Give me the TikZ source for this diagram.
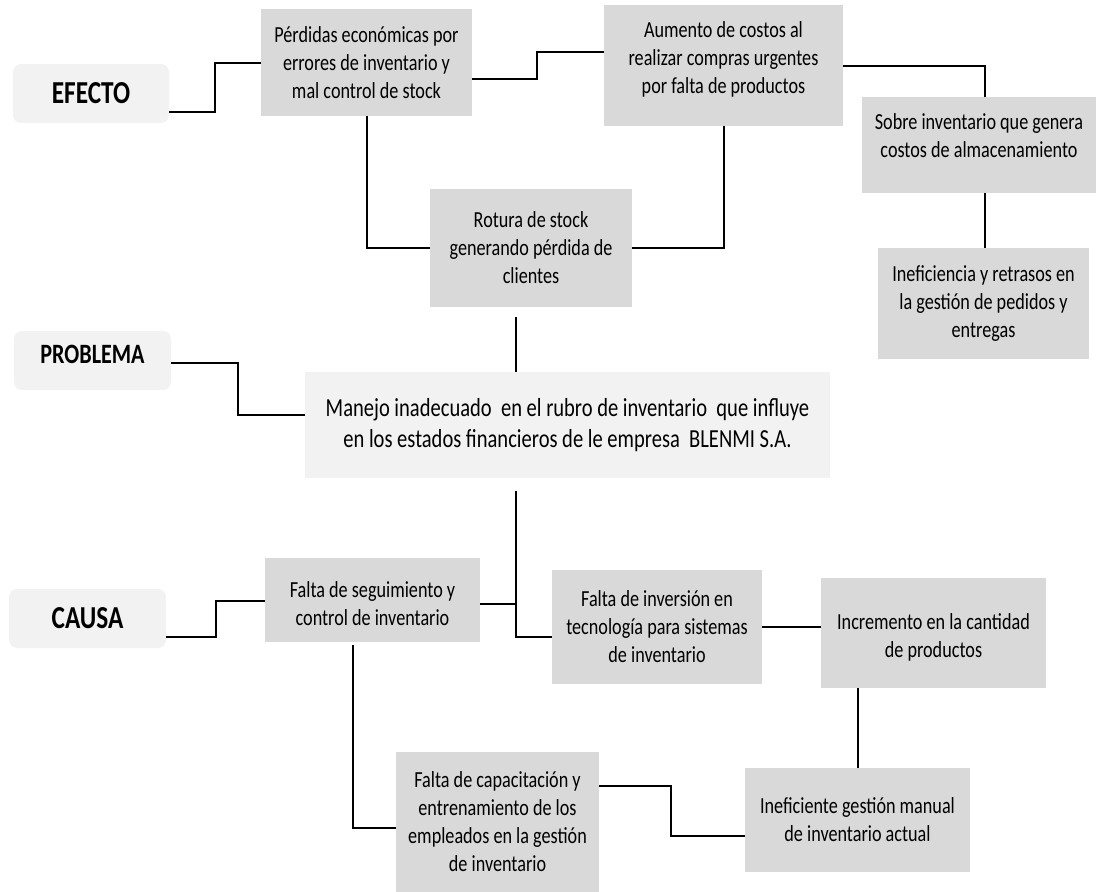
\documentclass[tikz,border=0pt]{standalone}
\usepackage{fontspec}
\setmainfont{Carlito}[FakeStretch=0.79]
\usetikzlibrary{calc}
\definecolor{boxgray}{HTML}{D9D9D9}
\definecolor{labgray}{HTML}{F2F2F2}
\tikzset{
  box/.style={fill=boxgray, inner sep=0pt, align=center, font=\fontsize{23}{28}\selectfont},
  lightbox/.style={fill=labgray, inner sep=0pt, align=center, font=\fontsize{26}{31}\selectfont},
  lab/.style={fill=labgray, rounded corners=8pt, inner sep=0pt, font=\bfseries\fontsize{32}{38}\selectfont},
  txt/.style={inner sep=0pt, align=center, font=\fontsize{23}{28}\selectfont},
  conn/.style={line width=2pt, draw=black},
}
\begin{document}
\begin{tikzpicture}[x=1pt,y=-1pt]
\useasboundingbox (0,0) rectangle (1096,892);
% label boxes
\node[lab, minimum width=156, minimum height=59] (efecto) at (91,93.5) {EFECTO};
\node[lab, minimum width=157, minimum height=59,
      label={[inner sep=0pt, font=\bfseries\fontsize{28}{34}\selectfont, yshift=6pt]center:PROBLEMA}] (problema) at (92.5,360.5) {};
\node[lab, minimum width=157, minimum height=59] (causa) at (87.5,618.5) {CAUSA};
% efecto boxes
\node[box, minimum width=211, minimum height=107] (perdidas) at (366.5,62.5)
  {Pérdidas económicas por\\errores de inventario y\\mal control de stock};
\node[box, minimum width=239, minimum height=121,
      label={[txt, yshift=6pt]center:{Aumento de costos al\\realizar compras urgentes\\por falta de productos}}] (aumento) at (723.5,65.5) {};
\node[box, minimum width=202, minimum height=118] (rotura) at (531,248)
  {Rotura de stock\\generando pérdida de\\clientes};
\node[box, minimum width=234, minimum height=96,
      label={[txt, yshift=9pt]center:{Sobre inventario que genera\\costos de almacenamiento}}] (sobre) at (979,145) {};
\node[box, minimum width=211, minimum height=111] (inef) at (983.5,303.5)
  {Ineficiencia y retrasos en\\la gestión de pedidos y\\entregas};
% problem
\node[lightbox, minimum width=525, minimum height=106] (problem) at (567.5,425)
  {Manejo inadecuado \ en el rubro de inventario \ que influye\\en los estados financieros de le empresa \ BLENMI S.A.};
% causa boxes
\node[box, minimum width=215, minimum height=84,
      label={[txt, yshift=-4pt]center:{Falta de seguimiento y\\control de inventario}}] (seguimiento) at (372.5,600) {};
\node[box, minimum width=210, minimum height=114] (inversion) at (657,627)
  {Falta de inversión en\\tecnología para sistemas\\de inventario};
\node[box, minimum width=225, minimum height=110,
      label={[txt, yshift=-4pt]center:{Incremento en la cantidad\\de productos}}] (incremento) at (933.5,633) {};
\node[box, minimum width=203, minimum height=140] (capacitacion) at (497.5,822)
  {Falta de capacitación y\\entrenamiento de los\\empleados en la gestión\\de inventario};
\node[box, minimum width=225, minimum height=104] (ineficiente) at (857.5,820)
  {Ineficiente gestión manual\\de inventario actual};
% connectors: efecto row
\draw[conn] ($(efecto.east)+(0,18)$) -| ($(perdidas.west)+(-46,0)$) -- (perdidas.west);
\draw[conn] ($(perdidas.east)+(0,16.5)$) -| ($(aumento.west)+(-67,-13.5)$) -- ($(aumento.west)+(0,-13.5)$);
\draw[conn] (perdidas.south) |- (rotura.west);
\draw[conn] (aumento.south) |- (rotura.east);
\draw[conn] (aumento.east) -| ($(sobre.north)+(6,0)$);
\draw[conn] ($(sobre.south)+(6,0)$) -- ($(inef.north)+(1.5,0)$);
\draw[conn] ($(rotura.south)+(-15,10)$) -- ($(rotura.south)+(-15,65)$);
% problema
\draw[conn] ($(problema.east)+(0,2.5)$) -| ($(problem.west)+(-67,-10)$) -- ($(problem.west)+(0,-10)$);
% causa
\coordinate (pb) at ($(problem.south)+(-51.5,13)$);
\draw[conn] (pb) |- ($(inversion.west)+(0,10)$);
\coordinate (s1) at ($(seguimiento.east)+(0,4)$);
\draw[conn] (s1) -- (s1 -| pb);
\draw[conn] ($(causa.east)+(0,18.5)$) -| ($(seguimiento.west)+(-49,1)$) -- ($(seguimiento.west)+(0,1)$);
\draw[conn] ($(seguimiento.south)+(-19.5,3)$) |- ($(capacitacion.west)+(0,6)$);
\draw[conn] (inversion.east) -- (inversion.east -| incremento.west);
\draw[conn] (ineficiente.north |- incremento.south) -- (ineficiente.north);
\draw[conn] ($(capacitacion.east)+(0,-36)$) -| ($(ineficiente.west)+(-74,16)$) -- ($(ineficiente.west)+(0,16)$);
\end{tikzpicture}
\end{document}
